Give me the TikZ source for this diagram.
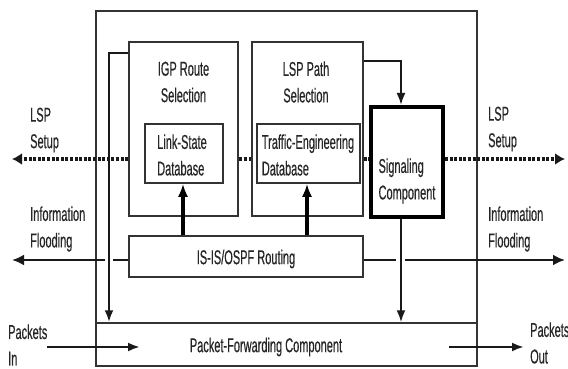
\documentclass[tikz,border=0pt]{standalone}
\usepackage{fontspec}
\setmainfont{Liberation Sans}[FakeStretch=0.55,FakeBold=0.4]
\usetikzlibrary{arrows.meta}
\begin{document}
\begin{tikzpicture}[x=1pt,y=-1pt,
  box/.style={draw=black!80,line width=1.5pt,fill=white,inner sep=0pt},
  lbl/.style={text=black!85,font=\fontsize{20}{26.5}\selectfont,inner sep=0pt},
  lblc/.style={lbl,align=center},
  lbll/.style={lbl,align=left},
  arr/.style={draw=black!90,line width=2pt,-{Latex[length=12pt,width=9pt]}},
  fat/.style={draw=black,line width=4pt,-{Latex[length=13pt,width=10pt]}},
  flood/.style={draw=black!90,line width=2.8pt},
  dotline/.style={draw=black!90,line width=4.5pt,dash pattern=on 3pt off 1.6pt},
  dottip/.style={dotline,-{Latex[length=10pt,width=12pt]}}
]
\useasboundingbox (0,0) rectangle (568,369);
% outer box
\node[box,fill=none,minimum width=381pt,minimum height=355pt] (outer) at (286.5,188.5) {};
% dotted LSP setup line behind the inner boxes
\coordinate (lsL) at (12,159);
\coordinate (lsR) at (565,159);
\node[box,minimum width=381pt,minimum height=43pt] (pfc) at (286.5,344.5) {};
\draw[dotline] (129,159) -- (371,159);
% big inner boxes
\node[box,minimum width=109pt,minimum height=174pt] (igp) at (183.5,129) {};
\node[box,minimum width=111pt,minimum height=174pt] (lsp) at (307.5,129) {};
\node[box,minimum width=78pt,minimum height=59pt] (lsdb) at (184,153.5) {};
\node[box,minimum width=103pt,minimum height=59pt] (tedb) at (308.5,153.5) {};
\node[box,draw=black,line width=4pt,minimum width=72pt,minimum height=110pt] (sig) at (407,162) {};
\node[box,minimum width=234pt,minimum height=41pt] (isis) at (246,256.5) {};
% texts
\node[lblc] (tigp) at (183.5,82) {IGP Route\\Selection};
\node[lblc] (tlsp) at (306,82) {LSP Path\\Selection};
\node[lbll] (tlsdb) at (182,155) {Link-State\\Database};
\node[lbll] (ttedb) at (308,155) {Traffic-Engineering\\Database};
\node[lbll] (tsig) at (407,181) {Signaling\\Component};
\node[lbl] (tisis) at (246,259) {IS-IS/OSPF Routing};
\node[lbl] (tpfc) at (266,347) {Packet-Forwarding Component};
\node[lbll,anchor=west] (tlsL) at (30,130) {LSP\\Setup};
\node[lbll,anchor=west] (tlsR) at (488,129) {LSP\\Setup};
\node[lbll,anchor=west] (tifL) at (30,229) {Information\\Flooding};
\node[lbll,anchor=west] (tifR) at (488,229) {Information\\Flooding};
\node[lbll,anchor=west] (tpin) at (8,345) {Packets\\In};
\node[lbll,anchor=west] (tpout) at (530,343) {Packets\\Out};
% LSP setup dotted arrows
\draw[dottip] (igp.west |- lsL) -- (lsL);
\draw[dottip] (sig.east |- lsR) -- (lsR);
% control arrows
\draw[arr] (lsp.east |- 0,61) -| (401,0 |- sig.north);
\draw[arr,line width=2.4pt] (igp.west |- 0,53) -| (109,0 |- pfc.north);
\draw[arr] (401,0 |- sig.south) -- (401,0 |- pfc.north);
\draw[fat] (183,0 |- isis.north) -- (183,0 |- lsdb.south);
\draw[fat] (307,0 |- isis.north) -- (307,0 |- tedb.south);
% information flooding
\coordinate (ifL) at (12,260);
\coordinate (ifR) at (565,260);
\draw[flood] (isis.west |- ifL) -- (113,260);
\draw[flood,-{Latex[length=12pt,width=11pt]}] (105,260) -- (ifL);
\draw[flood] (isis.east |- ifR) -- (396,260);
\draw[flood,-{Latex[length=12pt,width=11pt]}] (405,260) -- (ifR);
% packets
\coordinate (pinA) at (47,347);
\coordinate (pinB) at (140,347);
\coordinate (poutA) at (449,347);
\coordinate (poutB) at (524,347);
\draw[arr,line width=2.6pt] (pinA) -- (pinB);
\draw[arr,line width=2.6pt] (poutA) -- (poutB);
\end{tikzpicture}
\end{document}
